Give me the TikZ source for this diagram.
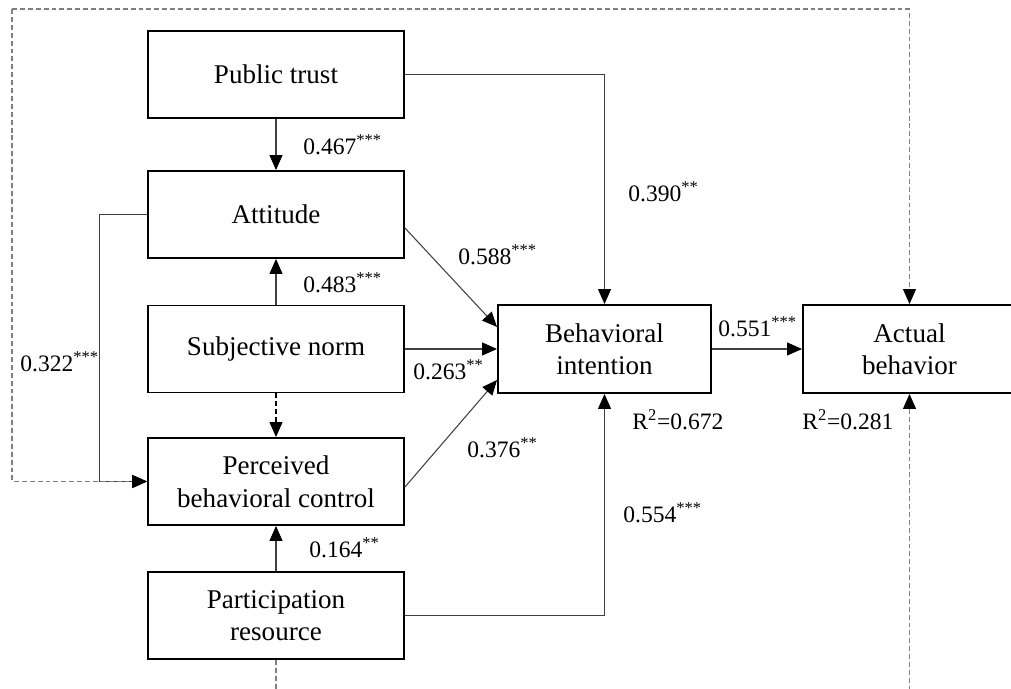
\documentclass[tikz,border=0pt]{standalone}
\usepackage{fontspec}
\setmainfont{Liberation Serif}
\usetikzlibrary{positioning,arrows.meta}

\begin{document}
\begin{tikzpicture}[x=0.02cm,y=-0.02cm,
  box/.style={draw, line width=1.1pt, align=center, minimum width=5.12cm, minimum height=1.74cm, font=\fontsize{15.4}{18.5}\selectfont},
  outbox/.style={box, minimum width=4.26cm, minimum height=1.76cm},
  lbl/.style={anchor=west, inner sep=0pt, font=\fontsize{13.4}{16}\selectfont},
  arr/.style={line width=0.6pt, draw=black!75, -{Triangle[length=0.3cm,width=0.26cm,color=black]}},
  ctl/.style={arr, draw=gray, dash pattern=on 2.8pt off 1.7pt}]
\useasboundingbox (0,0) rectangle (1011,689);
\clip (0,0) rectangle (1011,689);

% constructs
\node[box] (pt) at (276,74.5) {Public trust};
\node[box] (att) at (276,214.5) {Attitude};
\node[box] (sn) at (276,349) {Subjective norm};
\node[box] (pbc) at (276,481.5) {Perceived\\behavioral control};
\node[box] (pr) at (276,615.5) {Participation\\resource};
\node[outbox] (bi) at (604.5,349) {Behavioral\\intention};
\node[outbox] (ab) at (909.5,349) {Actual\\behavior};

% paths
\draw[arr] (pt.south) -- (att.north);
\draw[arr] (sn.north) -- (att.south);
\draw[arr, draw=black, dash pattern=on 2.8pt off 1.7pt] (sn.south) -- (pbc.north);
\draw[arr] (pr.north) -- (pbc.south);
\draw[arr] ([yshift=-0.27cm]att.east) -- ([yshift=0.44cm]bi.west);
\draw[arr] (sn.east) -- (bi.west);
\draw[arr] ([yshift=-0.11cm]pbc.east) -- ([yshift=-0.62cm]bi.west);
\draw[arr] (pt.east) -| (bi.north);
\draw[arr] (pr.east) -| (bi.south);
\draw[arr] (bi.east) -- (ab.west);
\draw[arr] (att.west) -- ++(-48,0) |- (pbc.west);

% control paths
\coordinate (ctltop) at (12,9);
\draw[ctl] (ctltop) -| (ab.north);
\draw[ctl] (ctltop) |- (pbc.west);
\draw[ctl] (pr.south) -- ++(0,90) -| (ab.south);

% coefficients
\node[lbl] (l1) at (303,145) {0.467\textsuperscript{***}};
\node[lbl] (l2) at (303,283) {0.483\textsuperscript{***}};
\node[lbl] (l3) at (309,548) {0.164\textsuperscript{**}};
\node[lbl] (l4) at (20,362) {0.322\textsuperscript{***}};
\node[lbl] (l5) at (458,255) {0.588\textsuperscript{***}};
\node[lbl] (l6) at (413,370) {0.263\textsuperscript{**}};
\node[lbl] (l7) at (467,448) {0.376\textsuperscript{**}};
\node[lbl] (l8) at (628,192) {0.390\textsuperscript{**}};
\node[lbl] (l9) at (623,513) {0.554\textsuperscript{***}};
\node[lbl] (l10) at (718,327) {0.551\textsuperscript{***}};
\node[lbl] (r1) at (632,420) {R\textsuperscript{2}=0.672};
\node[lbl] (r2) at (802,420) {R\textsuperscript{2}=0.281};
\end{tikzpicture}
\end{document}
